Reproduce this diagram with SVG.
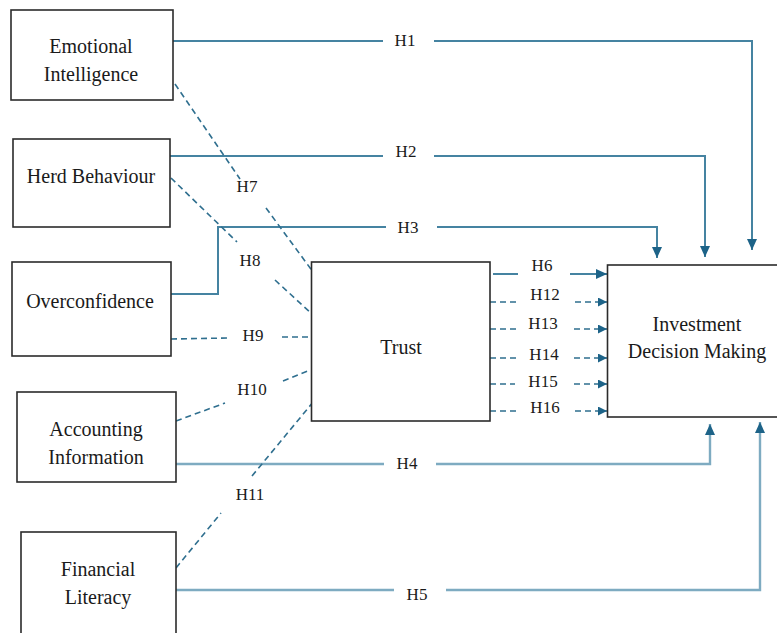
<svg xmlns="http://www.w3.org/2000/svg" width="777" height="633" viewBox="0 0 777 633">
<defs>
<marker id="ah" markerUnits="userSpaceOnUse" markerWidth="11" markerHeight="10" refX="11" refY="5" orient="auto">
<path d="M0,0 L11,5 L0,10 z" fill="#1d6388"/>
</marker>
<marker id="ahs" markerUnits="userSpaceOnUse" markerWidth="9" markerHeight="9" refX="9" refY="4.5" orient="auto">
<path d="M0,0 L9,4.5 L0,9 z" fill="#1d6388"/>
</marker>
<style>
.box{fill:#fff;stroke:#2b2b2b;stroke-width:1.6}
text{font-family:'Liberation Serif','Times New Roman',serif;fill:#1a1a1a;text-anchor:middle}
.t{font-size:20px}
.h{font-size:17px}
.s{fill:none;stroke:#4583a1;stroke-width:2}
.sl{fill:none;stroke:#7eabc1;stroke-width:2.4}
.d{fill:none;stroke:#2f6f8f;stroke-width:1.6;stroke-dasharray:6,4}
</style>
</defs>
<rect width="777" height="633" fill="#fff"/>

<g id="connectors">
<path class="s" d="M173,41 H383"/>
<path class="s" d="M434,41 H752 V250" marker-end="url(#ah)"/>
<path class="s" d="M170,156 H383"/>
<path class="s" d="M434,156 H705 V257" marker-end="url(#ah)"/>
<path class="s" d="M171,294 H218 V227 H386"/>
<path class="s" d="M437,227 H657 V258" marker-end="url(#ah)"/>
<path class="sl" d="M176,464 H384"/>
<path class="sl" d="M436,464 H710 V424" marker-end="url(#ah)"/>
<path class="sl" d="M176,590 H394"/>
<path class="sl" d="M446,590 H760 V422" marker-end="url(#ah)"/>
<path class="s" d="M493,274 H518"/>
<path class="s" d="M570,274 H607" marker-end="url(#ah)"/>
<path class="d" d="M490,302 H518"/>
<path class="d" d="M575,302 H607" marker-end="url(#ahs)"/>
<path class="d" d="M490,329 H516"/>
<path class="d" d="M574,329 H607" marker-end="url(#ahs)"/>
<path class="d" d="M490,358 H516"/>
<path class="d" d="M574,358 H607" marker-end="url(#ahs)"/>
<path class="d" d="M490,384 H515"/>
<path class="d" d="M574,384 H607" marker-end="url(#ahs)"/>
<path class="d" d="M490,411 H517"/>
<path class="d" d="M575,411 H607" marker-end="url(#ahs)"/>
<path class="d" d="M175,84 L240,179"/>
<path class="d" d="M266,208 L316,276"/>
<path class="d" d="M171,178 L237,242"/>
<path class="d" d="M275,280 L312,314"/>
<path class="d" d="M171,339 L230,338"/>
<path class="d" d="M282,337 L310,337"/>
<path class="d" d="M176,421 L225,403"/>
<path class="d" d="M283,381 L310,370"/>
<path class="d" d="M176,568 L221,513"/>
<path class="d" d="M252,476 L314,401"/>
</g>

<g id="labels">
<text class="h" x="405" y="46">H1</text>
<text class="h" x="406" y="157">H2</text>
<text class="h" x="408" y="233">H3</text>
<text class="h" x="407" y="469">H4</text>
<text class="h" x="417" y="600">H5</text>
<text class="h" x="542" y="271">H6</text>
<text class="h" x="247" y="192">H7</text>
<text class="h" x="250" y="266">H8</text>
<text class="h" x="253" y="341">H9</text>
<text class="h" x="252" y="395">H10</text>
<text class="h" x="250" y="500">H11</text>
<text class="h" x="545" y="300">H12</text>
<text class="h" x="543" y="329">H13</text>
<text class="h" x="544" y="360">H14</text>
<text class="h" x="543" y="387">H15</text>
<text class="h" x="545" y="413">H16</text>
</g>

<g id="emotional-intelligence">
<rect class="box" x="11" y="10" width="162" height="90"/>
<text class="t" x="91" y="53">Emotional</text>
<text class="t" x="91" y="81">Intelligence</text>
</g>
<g id="herd-behaviour">
<rect class="box" x="13" y="139" width="157" height="88"/>
<text class="t" x="91" y="183">Herd Behaviour</text>
</g>
<g id="overconfidence">
<rect class="box" x="12" y="262" width="159" height="94"/>
<text class="t" x="90" y="308">Overconfidence</text>
</g>
<g id="accounting-information">
<rect class="box" x="17" y="392" width="159" height="90"/>
<text class="t" x="96" y="436">Accounting</text>
<text class="t" x="96" y="464">Information</text>
</g>
<g id="financial-literacy">
<rect class="box" x="21" y="532" width="155" height="110"/>
<text class="t" x="98" y="576">Financial</text>
<text class="t" x="98" y="604">Literacy</text>
</g>
<g id="trust">
<rect class="box" x="311.5" y="262" width="178.5" height="159"/>
<text class="t" x="401" y="354">Trust</text>
</g>
<g id="investment-decision-making">
<rect class="box" x="607.5" y="265" width="180" height="152"/>
<text class="t" x="697" y="331">Investment</text>
<text class="t" x="697" y="358">Decision Making</text>
</g>
</svg>
